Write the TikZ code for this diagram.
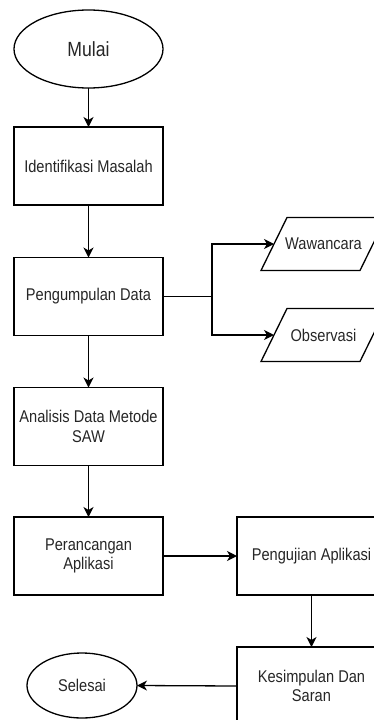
\documentclass[tikz,border=0pt]{standalone}
\usepackage{fontspec}
\setmainfont{Liberation Sans}[FakeStretch=0.86]
\usetikzlibrary{shapes.geometric,arrows.meta}
\begin{document}
\begin{tikzpicture}[x=1pt,y=-1pt,
  base/.style={draw=black, line width=1.3pt, fill=white, inner sep=0pt, outer sep=0pt,
    font=\fontsize{17}{19.5}\selectfont, align=center, text=black!85},
  box/.style={base, rectangle, minimum width=149pt, minimum height=78pt},
  term/.style={base, ellipse},
  io/.style={inner sep=0pt, outer sep=0pt, minimum width=99pt, minimum height=53pt,
    font=\fontsize{17}{19.5}\selectfont, text=black!85},
  arr/.style={line width=1.3pt, -{Stealth[length=10pt,width=10pt,inset=3pt]}},
  edge/.style={line width=1.3pt}
]
\useasboundingbox (0,0) rectangle (374,720);
\clip (0,0) rectangle (374,720);

\node[term, minimum width=149pt, minimum height=78pt, font=\fontsize{20.5}{22}\selectfont] (mulai) at (88.5,49) {Mulai};
\node[box] (ident) at (88.5,166) {Identifikasi Masalah};
\node[box] (kumpul) at (88.5,296.5) {Pengumpulan Data};
\node[box] (analisis) at (88.5,426.5) {Analisis Data Metode\\SAW};
\node[box] (rancang) at (88.5,556) {Perancangan\\Aplikasi};
\node[box] (uji) at (311.5,556) {Pengujian Aplikasi};
\node[box] (simpul) at (311.5,686) {Kesimpulan Dan\\Saran};
\node[term, minimum width=110pt, minimum height=65pt] (selesai) at (82,685.5) {Selesai};

\node[io] (waw) at (323.5,244) {Wawancara};
\node[io] (obs) at (323.5,335) {Observasi};
\foreach \n in {waw,obs}{
  \draw[edge] ([xshift=13pt]\n.north west) -- ([xshift=13pt]\n.north east)
    -- ([xshift=-13pt]\n.south east) -- ([xshift=-13pt]\n.south west) -- cycle;
}

\coordinate (fork) at (212,296.5);

\draw[arr] (mulai) -- (ident);
\draw[arr] (ident) -- (kumpul);
\draw[arr] (kumpul) -- (analisis);
\draw[arr] (analisis) -- (rancang);
\draw[arr] (rancang) -- (uji);
\draw[arr] (uji) -- (simpul);
\draw[arr] (simpul.west) -- (selesai.east);
\draw[edge] (kumpul.east) -- (fork);
\draw[arr] (fork) |- (waw.west);
\draw[arr] (fork) |- (obs.west);
\end{tikzpicture}
\end{document}
